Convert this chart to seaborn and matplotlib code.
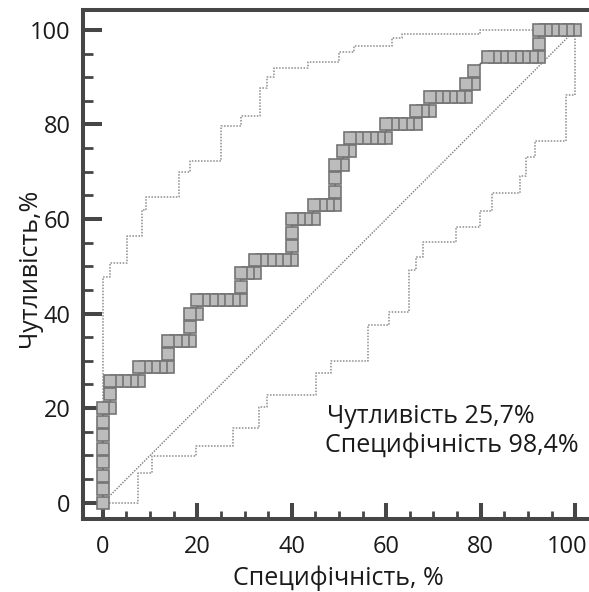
import matplotlib
matplotlib.use("Agg")
import matplotlib.pyplot as plt
from matplotlib.transforms import ScaledTranslation
import seaborn as sns

# ROC curve points (100 - specificity, sensitivity), in %
roc_fpr = [0, 0, 0, 0, 0, 0, 0, 0,
           1.6, 1.6, 1.6,
           3.1, 4.6, 6.2, 7.7,
           7.7, 9.2, 10.8, 12.3, 13.8,
           13.8, 13.8,
           15.4, 16.9, 18.5,
           18.5, 18.5,
           20.0,
           20.0, 21.5, 23.1, 24.6, 26.2, 27.7, 29.2,
           29.2, 29.2,
           30.8, 32.3,
           32.3, 33.8, 35.4, 36.9, 38.5, 40.0,
           40.0, 40.0, 40.0,
           41.5, 43.1, 44.6,
           44.6, 46.2, 47.7, 49.2,
           49.2, 49.2, 49.2,
           50.8,
           50.8, 52.3,
           52.3, 53.8, 55.4, 56.9, 58.5, 60.0,
           60.0, 61.5, 63.1, 64.6, 66.2,
           66.2, 67.7, 69.2,
           69.2, 70.8, 72.3, 73.8, 75.4, 76.9,
           76.9, 78.5,
           78.5,
           81.5, 83.1, 84.6, 86.2, 87.7, 89.2, 90.8, 92.3,
           92.3,
           92.3, 93.8, 95.4, 96.9, 98.5, 100.0]
roc_tpr = [0, 2.9, 5.7, 8.6, 11.4, 14.3, 17.1, 20.0,
           20.0, 22.9, 25.7,
           25.7, 25.7, 25.7, 25.7,
           28.6, 28.6, 28.6, 28.6, 28.6,
           31.4, 34.3,
           34.3, 34.3, 34.3,
           37.1, 40.0,
           40.0,
           42.9, 42.9, 42.9, 42.9, 42.9, 42.9, 42.9,
           45.7, 48.6,
           48.6, 48.6,
           51.4, 51.4, 51.4, 51.4, 51.4, 51.4,
           54.3, 57.1, 60.0,
           60.0, 60.0, 60.0,
           62.9, 62.9, 62.9, 62.9,
           65.7, 68.6, 71.4,
           71.4,
           74.3, 74.3,
           77.1, 77.1, 77.1, 77.1, 77.1, 77.1,
           80.0, 80.0, 80.0, 80.0, 80.0,
           82.9, 82.9, 82.9,
           85.7, 85.7, 85.7, 85.7, 85.7, 85.7,
           88.6, 88.6,
           91.4,
           94.3, 94.3, 94.3, 94.3, 94.3, 94.3, 94.3, 94.3,
           97.1,
           100.0, 100.0, 100.0, 100.0, 100.0, 100.0]

# 95% confidence bounds (step corners)
upper_fpr = [0, 0, 1.6, 5.1, 8.3, 9.2, 16.1, 18.5, 25.0, 29.2, 33.3, 34.7,
             36.3, 43.5, 50.1, 53.1, 61.2, 63.3, 79.9, 100.0]
upper_tpr = [0, 47.7, 50.6, 56.4, 62.0, 64.7, 69.9, 72.3, 79.6, 81.8, 87.8,
             90.0, 91.9, 93.3, 95.3, 96.5, 98.2, 99.2, 100.0, 100.0]
lower_fpr = [0, 7.4, 10.4, 19.8, 27.5, 33.1, 34.7, 45.2, 48.3, 56.2, 60.5,
             64.9, 66.4, 67.8, 74.7, 79.9, 82.4, 88.4, 89.6, 91.5, 98.1, 100.0,
             100.0]
lower_tpr = [0, 6.3, 9.8, 11.9, 15.9, 20.2, 22.7, 27.4, 30.0, 37.5, 40.3,
             49.2, 52.0, 55.2, 58.3, 61.6, 65.5, 69.0, 73.2, 76.4, 86.2, 86.2,
             100.0]

diag = [0, 100]
ticks = [0, 20, 40, 60, 80, 100]
minor_ticks = [5, 10, 15, 25, 30, 35, 45, 50, 55, 65, 70, 75, 85, 90, 95]
sens_label = 25.7
spec_label = 98.4

sns.set_theme(style="white")
plt.rcParams["font.family"] = ["Open Sans", "DejaVu Sans"]

W, H = 589, 592
fig = plt.figure(figsize=(W / 100, H / 100), dpi=100)
ax = fig.add_axes([83 / W, 73.5 / H, 515.8 / W, 508.5 / H])

dot = (0, (1, 1))
sns.lineplot(x=diag, y=diag, sort=False, estimator=None, ax=ax,
             color="#7a7a7a", linewidth=1.0, linestyle=dot)
for bx, by in [(upper_fpr, upper_tpr), (lower_fpr, lower_tpr)]:
    sns.lineplot(x=bx, y=by, sort=False, estimator=None, ax=ax,
                 color="#8c8c8c", linewidth=1.1, linestyle=dot,
                 drawstyle="steps-post")

sns.lineplot(x=roc_fpr[::-1], y=roc_tpr[::-1], sort=False, estimator=None,
             ax=ax, color="#6a6a6a", linewidth=1.3, marker="s",
             markersize=8.8, markerfacecolor="#bcbcbc",
             markeredgecolor="#747474", markeredgewidth=1.2)

ax.set_xlim(-4.2, 105.0)
ax.set_ylim(-3.34, 104.2)
ax.set_xticks(ticks)
ax.set_yticks(ticks)
ax.set_xticklabels([str(t) for t in ticks])
ax.set_yticklabels([str(t) for t in ticks])
ax.set_xticks(minor_ticks, minor=True)
ax.set_yticks(minor_ticks, minor=True)

spine_c = "#464646"
for side in ["left", "bottom", "top", "right"]:
    ax.spines[side].set_color(spine_c)
    ax.spines[side].set_linewidth(2.9)

txt_c = "#1a1a1a"
ax.tick_params(axis="y", which="major", direction="in", length=13.5,
               width=2.9, color=spine_c, labelsize=17, pad=9,
               labelcolor=txt_c, left=True)
ax.tick_params(axis="y", which="minor", direction="in", length=7,
               width=2.0, color=spine_c, left=True)
ax.tick_params(axis="x", which="major", direction="in", length=11.5,
               width=2.9, color=spine_c, labelsize=17, pad=12,
               labelcolor=txt_c, bottom=True)
ax.tick_params(axis="x", which="minor", direction="in", length=5.5,
               width=2.0, color=spine_c, bottom=True)

# nudge the last x tick label so it stays inside the figure
last = ax.get_xticklabels()[-1]
last.set_transform(last.get_transform()
                   + ScaledTranslation(-6 / 72, 0, fig.dpi_scale_trans))

ax.set_xlabel("Специфічність, %", fontsize=18, color=txt_c, va="center")
ax.xaxis.set_label_coords((338 - 83) / 515.8, (592 - 578 - 73.5) / 508.5)
ax.set_ylabel("Чутливість,%", fontsize=18, color=txt_c, va="center")
ax.yaxis.set_label_coords((30 - 83) / 515.8, (592 - 268 - 73.5) / 508.5)

ax.text(47.5, 16.9, f"Чутливість {sens_label:.1f}%".replace(".", ","),
        fontsize=18, color=txt_c, ha="left", va="baseline")
ax.text(47.1, 10.7, f"Специфічність {spec_label:.1f}%".replace(".", ","),
        fontsize=18, color=txt_c, ha="left", va="baseline")

fig.savefig("out.png", dpi=100)
